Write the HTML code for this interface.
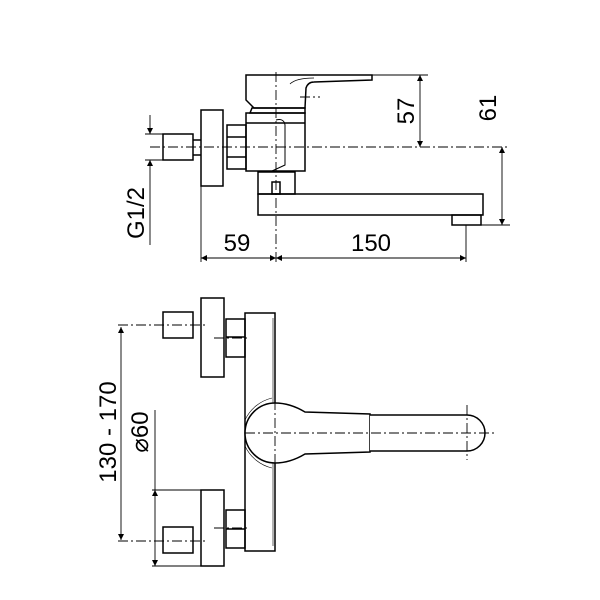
<!DOCTYPE html>
<html><head><style>body{margin:0;background:#fff}svg{display:block}</style></head>
<body>
<svg width="600" height="600" viewBox="0 0 600 600" xmlns="http://www.w3.org/2000/svg" font-family="Liberation Sans, sans-serif">
<defs>
<marker id="a" viewBox="0 0 10 10" refX="10" refY="5" markerWidth="11" markerHeight="6" orient="auto-start-reverse" markerUnits="userSpaceOnUse"><path d="M0,0 L10,5 L0,10 z" fill="#000"/></marker>
</defs>
<g fill="none" stroke="#000" stroke-width="1.5">
<rect x="163" y="134" width="30" height="26"/>
<line x1="193" y1="140" x2="201" y2="140"/><line x1="193" y1="155" x2="201" y2="155"/>
<rect x="201" y="110" width="22" height="76"/>
<rect x="227" y="125" width="19" height="44"/>
<line x1="227" y1="137" x2="246" y2="137"/><line x1="227" y1="157" x2="246" y2="157"/>
<rect x="246" y="113" width="59" height="58"/>
<line x1="246" y1="123" x2="305" y2="123"/>
<path d="M276,120 Q284,118 285,125 L285,165 L272,171" stroke-width="1"/>
<path d="M252,108 L305,108 L305,113 L250,113 Z"/>
<path d="M246,75 L246,100 L254,108 L305,108 L306,88 Q308,82 314,82 L372,80 L372,75 Z"/>
<path d="M290,84 Q296,78 314,78" stroke-width="0.8"/>
<rect x="258" y="172" width="37" height="22"/>
<rect x="272" y="182" width="8" height="12"/>
<rect x="258" y="194" width="225" height="21"/>
<rect x="452" y="215" width="29" height="10"/>
<rect x="163" y="312" width="30" height="26"/>
<rect x="201" y="298" width="23" height="79"/>
<rect x="226" y="319" width="19" height="38"/>
<line x1="226" y1="337" x2="245" y2="337"/>
<rect x="245" y="313" width="30" height="238"/>
<line x1="273" y1="318" x2="273" y2="546" stroke-width="0.6"/>
<rect x="163" y="527" width="30" height="26"/>
<rect x="201" y="490" width="23" height="76"/>
<rect x="226" y="510" width="19" height="38"/>
<line x1="226" y1="529" x2="245" y2="529"/>
<path d="M275,403 A30,30 0 1,0 275,463 Q290,463 305,454 L370,452 L370,414 L305,412 Q290,403 275,403 Z" fill="#fff"/>
<path d="M370,415 L467,415 A18,18 0 0,1 467,451 L370,451" fill="#fff"/>
<path d="M245,420 A40,40 0 0,1 272,398" stroke-width="0.6"/>
<path d="M245,446 A40,40 0 0,0 272,468" stroke-width="0.6"/>
</g>
<g stroke="#000" stroke-width="0.9" stroke-dasharray="10,3,2,3" fill="none">
<line x1="150" y1="147" x2="510" y2="147"/>
<line x1="276" y1="72" x2="276" y2="262"/>
<line x1="300" y1="97" x2="320" y2="97"/>
<line x1="245" y1="433" x2="495" y2="433"/>
<line x1="275" y1="400" x2="275" y2="470"/>
<line x1="467" y1="405" x2="467" y2="460"/>
<line x1="118" y1="325" x2="205" y2="325"/>
<line x1="214" y1="338" x2="250" y2="338"/>
<line x1="118" y1="541" x2="205" y2="541"/>
<line x1="214" y1="528" x2="250" y2="528"/>
</g>
<g stroke="#000" stroke-width="0.9" fill="none">
<line x1="372" y1="75" x2="428" y2="75"/>
<line x1="420" y1="75" x2="420" y2="147" marker-start="url(#a)" marker-end="url(#a)"/>
<line x1="480" y1="225" x2="510" y2="225"/>
<line x1="502" y1="147" x2="502" y2="225" marker-start="url(#a)" marker-end="url(#a)"/>
<line x1="201" y1="186" x2="201" y2="262"/>
<line x1="466" y1="225" x2="466" y2="262"/>
<line x1="201" y1="258" x2="276" y2="258" marker-start="url(#a)" marker-end="url(#a)"/>
<line x1="276" y1="258" x2="466" y2="258" marker-start="url(#a)" marker-end="url(#a)"/>
<line x1="145" y1="134" x2="165" y2="134"/>
<line x1="145" y1="160" x2="165" y2="160"/>
<line x1="150" y1="115" x2="150" y2="134" marker-end="url(#a)"/>
<line x1="150" y1="245" x2="150" y2="160" marker-end="url(#a)"/>
<line x1="121" y1="327" x2="121" y2="540" marker-start="url(#a)" marker-end="url(#a)"/>
<line x1="152" y1="490" x2="224" y2="490"/>
<line x1="152" y1="566" x2="224" y2="566"/>
<line x1="155" y1="410" x2="155" y2="490"/>
<line x1="155" y1="490" x2="155" y2="566" marker-start="url(#a)" marker-end="url(#a)"/>
</g>
<g font-size="24" fill="#000">
<text x="237" y="251" text-anchor="middle">59</text>
<text x="371" y="251" text-anchor="middle">150</text>
<text transform="translate(414,111) rotate(-90)" text-anchor="middle">57</text>
<text transform="translate(496,108) rotate(-90)" text-anchor="middle">61</text>
<text transform="translate(144,213) rotate(-90)" text-anchor="middle">G1/2</text>
<text transform="translate(116,432) rotate(-90)" text-anchor="middle">130 - 170</text>
<text transform="translate(148,432) rotate(-90)" text-anchor="middle">⌀60</text>
</g>
</svg>
</body></html>
